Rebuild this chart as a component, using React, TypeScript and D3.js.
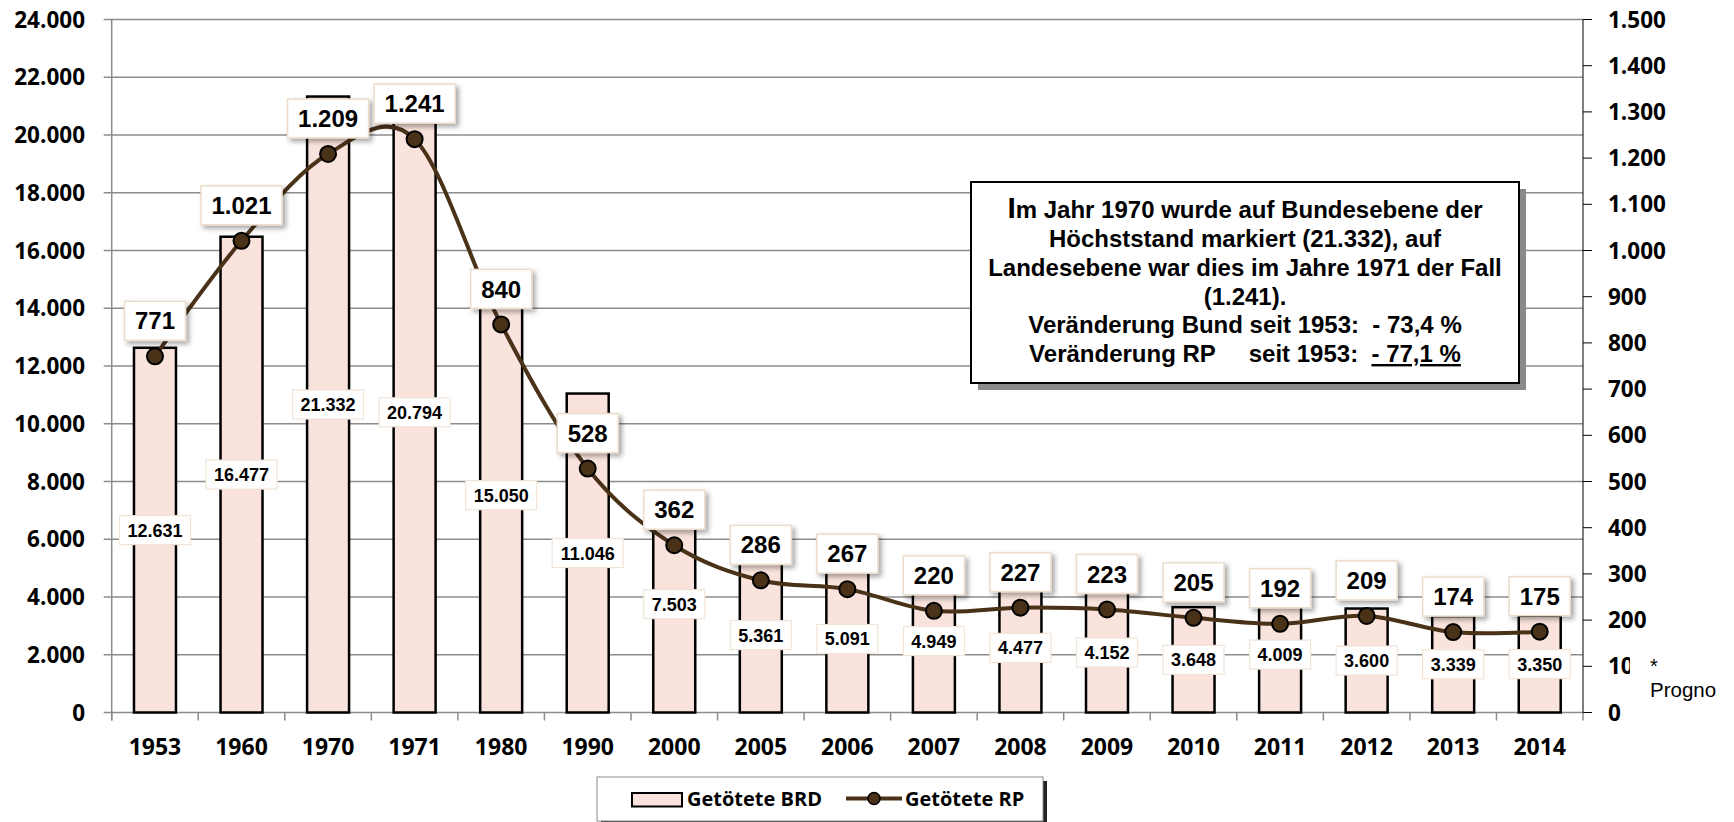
import React from 'react';
import * as d3 from 'd3';

const years = ['1953','1960','1970','1971','1980','1990','2000','2005','2006','2007','2008','2009','2010','2011','2012','2013','2014'];
const brdValues = [12631,16477,21332,20794,15050,11046,7503,5361,5091,4949,4477,4152,3648,4009,3600,3339,3350];
const rpValues = [771,1021,1209,1241,840,528,362,286,267,220,227,223,205,192,209,174,175];
const leftDomain = [0, 24000];
const rightDomain = [0, 1500];
const seriesNames = ['Getötete BRD', 'Getötete RP'];
const noteLines = [
  'm Jahr 1970 wurde auf Bundesebene der',
  'Höchststand markiert (21.332), auf',
  'Landesebene war dies im Jahre 1971 der Fall',
  '(1.241).',
  'Veränderung Bund seit 1953:  - 73,4 %',
];
const noteLast = ['Veränderung RP     seit 1953:  ', '- 77,1 %'];
const sideNote = ['*', 'Progno'];

const AX = "'Open Sans', sans-serif";
const AR = "'Liberation Sans', Arial, sans-serif";
const BROWN = '#4a3219';
const PINK = '#f9e3dc';

export default function App() {
  const W = 1734, H = 822;
  const P = { left: 111.7, right: 1583, top: 19.5, bottom: 712.5 };
  const x = d3.scaleBand<string>().domain(years).range([P.left, P.right]).padding(0);
  const yL = d3.scaleLinear().domain(leftDomain).range([P.bottom, P.top]);
  const yR = d3.scaleLinear().domain(rightDomain).range([P.bottom, P.top]);
  const loc = d3.formatLocale({ decimal: ',', thousands: '.', grouping: [3], currency: ['', ''] });
  const fmt = loc.format(',d');
  const cx = (y: string) => (x(y) as number) + x.bandwidth() / 2;
  const bw = x.bandwidth() * 0.485;
  const leftTicks = yL.ticks(12);
  const rightTicks = yR.ticks(15);
  const line = d3.line<number>()
    .x((_, i) => cx(years[i]))
    .y(d => yR(d))
    .curve(d3.curveCardinal.tension(0));
  const tw = (s: string, fs: number) =>
    s.split('').reduce((a, c) => a + (c === '.' || c === ',' ? 0.278 : 0.556), 0) * fs;

  const noteCx = 1245;
  const noteBase = [218, 247, 276, 305, 333];

  return (
    <svg width={W} height={H} style={{ position: 'absolute', left: 0, top: 0, background: '#fff' }}>
      <defs>
        <filter id="sh" x="-30%" y="-30%" width="170%" height="180%">
          <feDropShadow dx="3" dy="3" stdDeviation="2.5" floodColor="#000" floodOpacity="0.35" />
        </filter>
        <clipPath id="sideClip">
          <rect x={1630} y={645} width={88} height={64} />
        </clipPath>
      </defs>
      <rect x={0} y={0} width={W} height={H} fill="#fff" />

      {/* gridlines */}
      {leftTicks.map(t => (
        <line key={'g' + t} x1={P.left - 8} x2={P.right} y1={yL(t)} y2={yL(t)} stroke="#8c8c8c" strokeWidth={1.5} />
      ))}
      {/* left axis */}
      <line x1={P.left} x2={P.left} y1={P.top} y2={P.bottom + 8} stroke="#8c8c8c" strokeWidth={1.5} />
      {leftTicks.map(t => (
        <text key={'lt' + t} x={85} y={yL(t) + 8} textAnchor="end" fontFamily={AX} fontWeight={700} fontSize={22.5} fill="#000">{fmt(t)}</text>
      ))}
      {/* x axis ticks */}
      {years.map((y, i) => (
        <line key={'xt' + y} x1={x(y) as number} x2={x(y) as number} y1={P.bottom} y2={P.bottom + 8} stroke="#8c8c8c" strokeWidth={1.5} />
      ))}
      <line x1={P.right} x2={P.right} y1={P.bottom} y2={P.bottom + 8} stroke="#8c8c8c" strokeWidth={1.5} />
      {years.map(y => (
        <text key={'xl' + y} x={cx(y)} y={755} textAnchor="middle" fontFamily={AX} fontWeight={700} fontSize={23} fill="#000">{y}</text>
      ))}
      {/* right axis */}
      <line x1={P.right} x2={P.right} y1={P.top} y2={P.bottom} stroke="#000" strokeWidth={1} />
      {rightTicks.map(t => (
        <g key={'rt' + t}>
          <line x1={P.right} x2={P.right + 9} y1={yR(t)} y2={yR(t)} stroke="#000" strokeWidth={1} />
          <text x={1608} y={yR(t) + 8} fontFamily={AX} fontWeight={700} fontSize={22.5} fill="#000">{fmt(t)}</text>
        </g>
      ))}

      {/* bars */}
      {brdValues.map((v, i) => (
        <rect key={'b' + i} x={cx(years[i]) - bw / 2} y={yL(v)} width={bw} height={P.bottom - yL(v)}
          fill={PINK} stroke="#000" strokeWidth={2.5} />
      ))}
      {/* bar labels */}
      {brdValues.map((v, i) => {
        const s = fmt(v);
        const w = tw(s, 18) + 16;
        const cy = (yL(v) + P.bottom) / 2;
        return (
          <g key={'bl' + i}>
            <rect x={cx(years[i]) - w / 2} y={cy - 14.5} width={w} height={29} fill="#fff" stroke="#f1e4d8" strokeWidth={1.2} />
            <text x={cx(years[i])} y={cy + 6.5} textAnchor="middle" fontFamily={AR} fontWeight={700} fontSize={18} fill="#000">{s}</text>
          </g>
        );
      })}

      {/* line */}
      <path d={line(rpValues) as string} fill="none" stroke={BROWN} strokeWidth={4} />
      {rpValues.map((v, i) => (
        <circle key={'m' + i} cx={cx(years[i])} cy={yR(v)} r={8} fill={BROWN} stroke="#000" strokeWidth={2} />
      ))}
      {/* RP labels */}
      {rpValues.map((v, i) => {
        const s = fmt(v);
        const w = tw(s, 24) + 21;
        const cy = yR(v) - 35.5;
        return (
          <g key={'rl' + i}>
            <rect x={cx(years[i]) - w / 2} y={cy - 19.5} width={w} height={39} fill="#fff" stroke="#ecdccb" strokeWidth={1.5} filter="url(#sh)" />
            <text x={cx(years[i])} y={cy + 8.6} textAnchor="middle" fontFamily={AR} fontWeight={700} fontSize={24} fill="#000">{s}</text>
          </g>
        );
      })}

      {/* annotation box */}
      <rect x={978} y={189} width={548} height={201} fill="#8a8a8a" />
      <rect x={971} y={182} width={548} height={201} fill="#fff" stroke="#000" strokeWidth={2} />
      <text x={noteCx} y={noteBase[0]} textAnchor="middle" fontFamily={AR} fontWeight={700} fontSize={24} fill="#000">
        <tspan fontSize={30} fontFamily="'Liberation Sans Narrow', 'Liberation Sans', sans-serif">I</tspan>{noteLines[0]}
      </text>
      {noteLines.slice(1).map((l, i) => (
        <text key={'n' + i} x={noteCx} y={noteBase[i + 1]} textAnchor="middle" fontFamily={AR} fontWeight={700} fontSize={24} fill="#000" style={{ whiteSpace: 'pre' }}>{l}</text>
      ))}
      <text x={noteCx} y={362} textAnchor="middle" fontFamily={AR} fontWeight={700} fontSize={24} fill="#000" style={{ whiteSpace: 'pre' }}>
        {noteLast[0]}<tspan style={{ textDecoration: 'underline' }}>{noteLast[1]}</tspan>
      </text>

      {/* side note box overlapping the right axis label */}
      <rect x={1630} y={645} width={104} height={64} fill="#fff" />
      <g clipPath="url(#sideClip)">
        <text x={1650} y={673} fontFamily={AR} fontSize={20} fill="#000">{sideNote[0]}</text>
        <text x={1650} y={697} fontFamily={AR} fontSize={20.5} fill="#000">{sideNote[1]}</text>
      </g>

      {/* legend */}
      <rect x={601} y={781} width={446} height={44} fill="#222" />
      <rect x={597} y={777} width={446} height={44} fill="#fff" stroke="#8c8c8c" strokeWidth={1} />
      <rect x={632} y={793} width={50} height={13.5} fill={PINK} stroke="#000" strokeWidth={2} />
      <text x={687} y={806} fontFamily={AX} fontWeight={700} fontSize={20} fill="#000">{seriesNames[0]}</text>
      <line x1={846} x2={902} y1={798.5} y2={798.5} stroke={BROWN} strokeWidth={4} />
      <circle cx={874} cy={798.5} r={6} fill={BROWN} stroke="#000" strokeWidth={1.5} />
      <text x={905} y={806} fontFamily={AX} fontWeight={700} fontSize={20} fill="#000">{seriesNames[1]}</text>
    </svg>
  );
}
